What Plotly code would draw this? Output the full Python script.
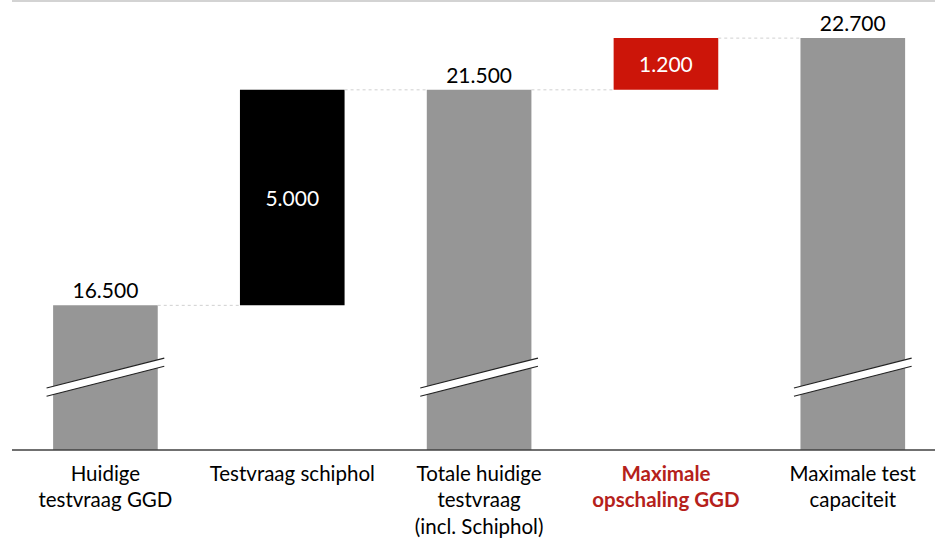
import plotly.graph_objects as go

categories = ["Huidige<br>testvraag GGD", "Testvraag schiphol",
              "Totale huidige<br>testvraag<br>(incl. Schiphol)",
              "<span style='color:#B5211B'><b>Maximale</b></span><br><span style='color:#B5211B'><b>opschaling GGD</b></span>",
              "Maximale test<br>capaciteit"]
values = [16500, 5000, 21500, 1200, 22700]
bases = [0, 16500, 0, 21500, 0]
colors = ["#969696", "#000000", "#969696", "#CC1509", "#969696"]
text_pos = ["outside", "inside", "outside", "inside", "outside"]
labels = [f"{v:,}".replace(",", ".") for v in values]

y_min, y_max = 13144, 23561
bar_w = 0.56
break_lo, break_hi = 14487, 15181   # centre of break band at left / right
break_half = 95

x = list(range(len(values)))
fig = go.Figure()
fig.add_trace(go.Bar(
    x=x, y=values, base=bases, width=bar_w,
    marker=dict(color=colors, line=dict(width=0)),
    text=labels, textposition=text_pos, insidetextanchor="middle",
    insidetextfont=dict(color="white", size=21, family="Lato"),
    outsidetextfont=dict(color="black", size=21, family="Lato"),
    cliponaxis=False, constraintext="none", showlegend=False,
))

shapes = []
# connectors
for i in range(len(values) - 1):
    lvl = values[i] + bases[i]
    shapes.append(dict(type="line", xref="x", yref="y",
                       x0=i + bar_w / 2, x1=i + 1 - bar_w / 2, y0=lvl, y1=lvl,
                       line=dict(color="#D0D0D0", width=1, dash="dot")))
# break marks on total bars
for i in range(len(values)):
    if bases[i] != 0:
        continue
    xl, xr = i - 0.315, i + 0.315
    path = (f"M {xl},{break_lo - break_half} L {xr},{break_hi - break_half} "
            f"L {xr},{break_hi + break_half} L {xl},{break_lo + break_half} Z")
    shapes.append(dict(type="path", xref="x", yref="y", path=path,
                       fillcolor="white", line=dict(width=0)))
    for d in (-break_half, break_half):
        shapes.append(dict(type="line", xref="x", yref="y",
                           x0=xl, x1=xr, y0=break_lo + d, y1=break_hi + d,
                           line=dict(color="#222222", width=1.2)))
# top light line
shapes.append(dict(type="line", xref="paper", yref="paper", x0=0, x1=1, y0=1, y1=1,
                   line=dict(color="#D3D3D3", width=2)))
# baseline
shapes.append(dict(type="line", xref="paper", yref="paper", x0=0, x1=1, y0=0, y1=0,
                   line=dict(color="#404040", width=1.5)))

fig.update_layout(
    width=935, height=539,
    margin=dict(l=12, r=0, t=1, b=89),
    paper_bgcolor="white", plot_bgcolor="white",
    shapes=shapes,
    font=dict(family="Lato", size=21, color="black"),
    xaxis=dict(range=[-0.5, 4.44], tickmode="array", tickvals=x, ticktext=categories,
               showgrid=False, zeroline=False, showline=False, ticks="",
               ticklabelstandoff=9,
               tickfont=dict(size=20.5, family="Lato", color="black")),
    yaxis=dict(range=[y_min, y_max], visible=False, showgrid=False, zeroline=False),
)
fig.write_html("out.html", config={"displayModeBar": False},
               post_script="document.body.style.margin='0';")
